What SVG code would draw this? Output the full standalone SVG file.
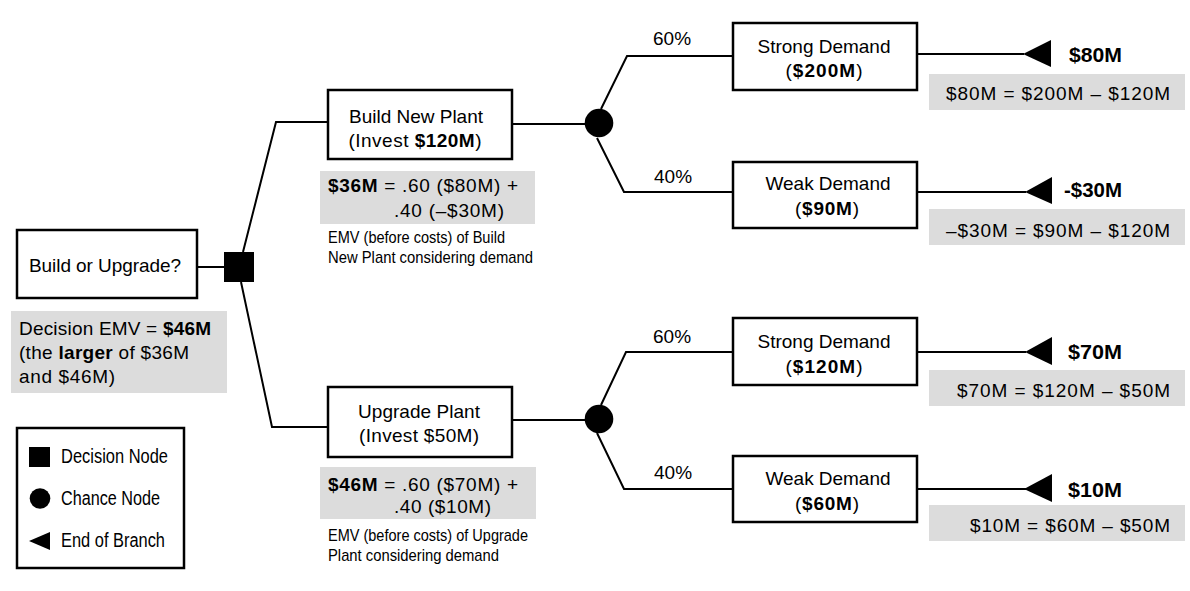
<svg xmlns="http://www.w3.org/2000/svg" width="1190" height="591" viewBox="0 0 1190 591">
<style>
.box{fill:#fff;stroke:#000;stroke-width:2.5}
.gray{fill:#dcdcdc}
.ln{fill:none;stroke:#000;stroke-width:2}
.t{font-family:"Liberation Sans",Arial,sans-serif;font-size:19px;fill:#000}
.c{text-anchor:middle}
.e{text-anchor:end}
.b{font-weight:bold}
.v{font-size:20px}
.n{font-family:"Liberation Sans Narrow","Liberation Sans",Arial,sans-serif;fill:#000}
.s{font-size:17px}
.l{font-size:20px}
</style>
<rect x="0" y="0" width="1190" height="591" fill="#fff"/>

<g id="connectors">
  <polyline class="ln" points="197,267 224,267"/>
  <polyline class="ln" points="243,252 276,122 328,122"/>
  <polyline class="ln" points="241,282 272,427 328,427"/>
  <polyline class="ln" points="512,124 585,124"/>
  <polyline class="ln" points="512,420 585,420"/>
  <polyline class="ln" points="601,109 627,56 733,56"/>
  <polyline class="ln" points="597,138 624,192 733,192"/>
  <polyline class="ln" points="601,405 626,352 733,352"/>
  <polyline class="ln" points="597,433 624,489 733,489"/>
  <polyline class="ln" points="917,54 1024,54"/>
  <polyline class="ln" points="917,192 1026,192"/>
  <polyline class="ln" points="917,352 1026,352"/>
  <polyline class="ln" points="917,489 1026,489"/>
  <text class="t" x="653" y="45">60%</text>
  <text class="t" x="654" y="183">40%</text>
  <text class="t" x="653" y="343">60%</text>
  <text class="t" x="654" y="479">40%</text>
</g>

<g id="root">
  <rect class="box" x="17" y="230" width="180" height="68"/>
  <text class="t c" x="105" y="272" textLength="152">Build or Upgrade?</text>
</g>

<g id="decision-node">
  <rect x="224" y="252" width="30" height="30" fill="#000"/>
</g>

<g id="decision-emv">
  <rect class="gray" x="11" y="311" width="216" height="82"/>
  <text class="t" x="19" y="335" textLength="192">Decision EMV = <tspan class="b">$46M</tspan></text>
  <text class="t" x="19" y="359" textLength="170">(the <tspan class="b">larger</tspan> of $36M</text>
  <text class="t" x="19" y="383" textLength="96">and $46M)</text>
</g>

<g id="build-new-plant">
  <rect class="box" x="328" y="90" width="184" height="69"/>
  <text class="t c" x="416" y="123" textLength="134">Build New Plant</text>
  <text class="t c" x="415" y="147" textLength="133">(Invest <tspan class="b">$120M</tspan>)</text>
</g>

<g id="build-emv">
  <rect class="gray" x="320" y="171" width="215" height="53"/>
  <text class="t" x="328" y="192" textLength="190"><tspan class="b">$36M</tspan> = .60 ($80M) +</text>
  <text class="t" x="394" y="217" textLength="110">.40 (–$30M)</text>
  <text class="n s" x="328" y="243" textLength="177" lengthAdjust="spacingAndGlyphs">EMV (before costs) of Build</text>
  <text class="n s" x="328" y="263" textLength="205" lengthAdjust="spacingAndGlyphs">New Plant considering demand</text>
</g>

<g id="chance-build">
  <circle cx="599" cy="123" r="14.3" fill="#000"/>
</g>

<g id="strong-build">
  <rect class="box" x="733" y="23" width="184" height="67"/>
  <text class="t c" x="824" y="53" textLength="133">Strong Demand</text>
  <text class="t c" x="824" y="77" textLength="77">(<tspan class="b">$200M</tspan>)</text>
</g>

<g id="weak-build">
  <rect class="box" x="733" y="162" width="184" height="66"/>
  <text class="t c" x="828" y="190" textLength="125">Weak Demand</text>
  <text class="t c" x="827" y="215" textLength="64">(<tspan class="b">$90M</tspan>)</text>
</g>

<g id="end-strong-build">
  <polygon points="1023,54 1051,40 1051,67" fill="#000"/>
  <text class="t b v" x="1069" y="62" textLength="53" lengthAdjust="spacingAndGlyphs">$80M</text>
  <rect class="gray" x="929" y="74" width="256" height="36"/>
  <text class="t e" x="1170" y="100" textLength="224">$80M = $200M – $120M</text>
</g>

<g id="end-weak-build">
  <polygon points="1025,192 1052,177 1052,204" fill="#000"/>
  <text class="t b v" x="1064" y="197" textLength="58" lengthAdjust="spacingAndGlyphs">-$30M</text>
  <rect class="gray" x="929" y="209" width="256" height="36"/>
  <text class="t e" x="1170" y="237" textLength="224">–$30M = $90M – $120M</text>
</g>

<g id="upgrade-plant">
  <rect class="box" x="328" y="387" width="184" height="70"/>
  <text class="t c" x="419" y="418" textLength="122">Upgrade Plant</text>
  <text class="t c" x="419" y="442" textLength="120">(Invest $50M)</text>
</g>

<g id="upgrade-emv">
  <rect class="gray" x="320" y="467" width="216" height="52"/>
  <text class="t" x="328" y="491" textLength="190"><tspan class="b">$46M</tspan> = .60 ($70M) +</text>
  <text class="t" x="394" y="513" textLength="97">.40 ($10M)</text>
  <text class="n s" x="328" y="541" textLength="200" lengthAdjust="spacingAndGlyphs">EMV (before costs) of Upgrade</text>
  <text class="n s" x="328" y="561" textLength="171" lengthAdjust="spacingAndGlyphs">Plant considering demand</text>
</g>

<g id="chance-upgrade">
  <circle cx="599" cy="419" r="14.3" fill="#000"/>
</g>

<g id="strong-upgrade">
  <rect class="box" x="733" y="318" width="184" height="67"/>
  <text class="t c" x="824" y="348" textLength="133">Strong Demand</text>
  <text class="t c" x="824" y="373" textLength="77">(<tspan class="b">$120M</tspan>)</text>
</g>

<g id="weak-upgrade">
  <rect class="box" x="733" y="456" width="184" height="66"/>
  <text class="t c" x="828" y="485" textLength="125">Weak Demand</text>
  <text class="t c" x="827" y="510" textLength="64">(<tspan class="b">$60M</tspan>)</text>
</g>

<g id="end-strong-upgrade">
  <polygon points="1025,352 1052,337 1052,365" fill="#000"/>
  <text class="t b v" x="1068" y="359" textLength="54" lengthAdjust="spacingAndGlyphs">$70M</text>
  <rect class="gray" x="929" y="370" width="256" height="36"/>
  <text class="t e" x="1170" y="397" textLength="213">$70M = $120M – $50M</text>
</g>

<g id="end-weak-upgrade">
  <polygon points="1024,489 1052,474 1052,502" fill="#000"/>
  <text class="t b v" x="1068" y="497" textLength="54" lengthAdjust="spacingAndGlyphs">$10M</text>
  <rect class="gray" x="929" y="505" width="256" height="36"/>
  <text class="t e" x="1170" y="532" textLength="200">$10M = $60M – $50M</text>
</g>

<g id="legend">
  <rect class="box" x="17" y="428" width="167" height="140"/>
  <rect x="29" y="447" width="21" height="20" fill="#000"/>
  <text class="n l" x="61" y="463" textLength="107" lengthAdjust="spacingAndGlyphs">Decision Node</text>
  <circle cx="40" cy="498.5" r="10.3" fill="#000"/>
  <text class="n l" x="61" y="505" textLength="99" lengthAdjust="spacingAndGlyphs">Chance Node</text>
  <polygon points="29,541 50,532 50,550" fill="#000"/>
  <text class="n l" x="61" y="547" textLength="104" lengthAdjust="spacingAndGlyphs">End of Branch</text>
</g>
</svg>
